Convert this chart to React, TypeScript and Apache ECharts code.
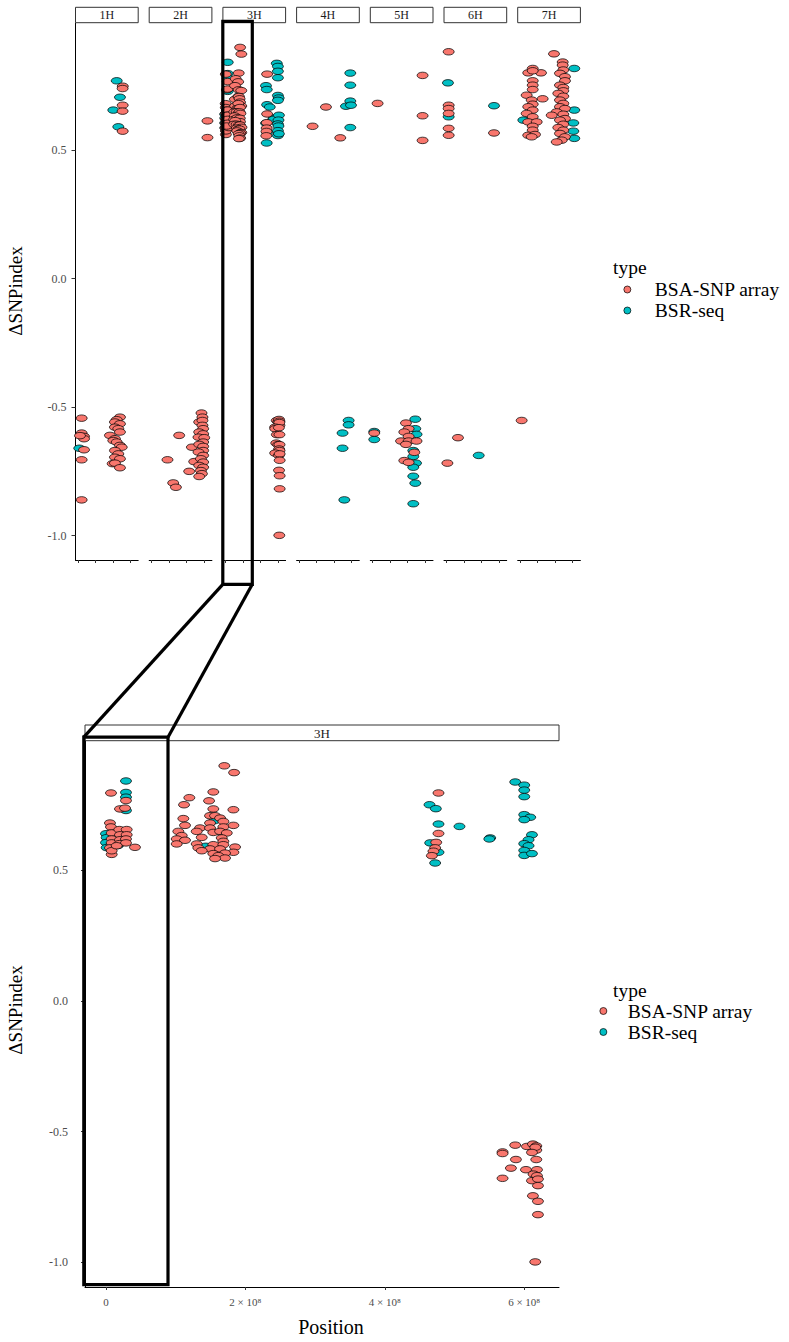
import React, { useEffect, useRef } from 'react';
import * as echarts from 'echarts';

// ---------- data (positions in Mb, ΔSNPindex) ----------
const chromosomes = ['1H', '2H', '3H', '4H', '5H', '6H', '7H'];
const typeNames = ['BSA-SNP array', 'BSR-seq'];
const xTickValues = [0, 200, 400, 600];
const yTickValues = [-1, -0.5, 0, 0.5];

const chr1H_array: number[][] = [
  [512, 0.749], [510, 0.740], [511, 0.675], [510, 0.652], [511, 0.574],
  [44, -0.543], [44, -0.601], [71, -0.614], [71, -0.623], [25, -0.611], [71, -0.666], [44, -0.705], [44, -0.861],
  [480, -0.539], [443, -0.549], [423, -0.558], [480, -0.565], [423, -0.578], [461, -0.584], [480, -0.597],
  [366, -0.610], [423, -0.623], [404, -0.630], [443, -0.636], [480, -0.649], [500, -0.656], [423, -0.669],
  [461, -0.682], [423, -0.695], [480, -0.701], [397, -0.720], [423, -0.718], [480, -0.736],
];
const chr1H_bsr: number[][] = [
  [443, 0.770], [480, 0.706], [404, 0.656], [461, 0.591], [17, -0.660],
];

const chr2H_array: number[][] = [
  [637, 0.614], [637, 0.549],
  [315, -0.610], [182, -0.705], [247, -0.795], [278, -0.812], [460, -0.656], [429, -0.750], [486, -0.712],
  [569, -0.523], [580, -0.539], [543, -0.558], [580, -0.552], [580, -0.571], [588, -0.584], [543, -0.597],
  [588, -0.604], [535, -0.617], [600, -0.619], [588, -0.636], [543, -0.645], [588, -0.653], [588, -0.669],
  [535, -0.675], [588, -0.688], [562, -0.701], [588, -0.714], [543, -0.727], [588, -0.734], [562, -0.747],
  [574, -0.759], [543, -0.770],
];
const chr2H_bsr: number[][] = [];

const chr3H_array: number[][] = [
  [7.2, 0.796], [28.7, 0.767], [20.1, 0.735], [27.3, 0.738], [5.7, 0.681], [7.2, 0.666], [8.2, 0.643],
  [19.1, 0.656], [29.7, 0.656], [8.2, 0.620], [20.1, 0.636], [29.7, 0.636], [8.2, 0.605], [20.1, 0.617],
  [28.7, 0.620], [5.7, 0.586], [19.1, 0.602], [28.7, 0.605], [8.2, 0.561], [8.2, 0.575], [41.6, 0.588], [15.4, 0.594],
  [169.8, 0.900], [183.8, 0.874], [154.0, 0.800], [119.6, 0.778], [147.9, 0.766], [112.0, 0.751], [154.0, 0.735],
  [182.8, 0.732], [111.0, 0.698], [149.3, 0.709], [156.5, 0.709], [163.7, 0.700], [168.4, 0.687], [182.8, 0.672],
  [113.4, 0.672], [149.3, 0.681], [135.0, 0.662], [149.3, 0.662], [168.4, 0.666], [103.8, 0.649], [130.2, 0.649],
  [154.0, 0.645], [163.7, 0.649], [173.3, 0.643], [108.7, 0.633], [101.5, 0.620], [137.4, 0.626], [166.1, 0.624],
  [168.4, 0.611], [113.4, 0.615], [101.5, 0.601], [130.2, 0.601], [154.0, 0.598], [168.4, 0.598], [185.2, 0.589],
  [132.5, 0.586], [149.3, 0.582], [163.7, 0.582], [137.4, 0.575], [182.8, 0.569], [170.8, 0.566], [154.0, 0.564],
  [161.2, 0.556], [170.8, 0.547], [156.5, 0.545],
  [477.1, 0.796], [477.1, 0.641], [473.8, 0.607], [472.3, 0.586], [469.9, 0.573], [467.6, 0.556],
  [587.2, -0.552], [604.0, -0.557], [612.6, -0.548], [617.4, -0.555], [617.4, -0.571], [616.0, -0.560],
  [569.0, -0.578], [569.0, -0.584], [611.2, -0.580], [588.2, -0.607], [617.4, -0.607], [581.0, -0.640],
  [602.6, -0.646], [618.4, -0.646], [613.5, -0.663], [618.4, -0.669], [569.0, -0.679], [611.2, -0.688],
  [619.8, -0.682], [619.8, -0.707], [612.6, -0.746], [619.8, -0.767], [619.8, -0.818], [615.9, -0.999],
];
const chr3H_bsr: number[][] = [
  [28.7, 0.842], [28.7, 0.798], [28.7, 0.780], [28.7, 0.729], [0, 0.640], [1, 0.625], [0, 0.606], [1, 0.587], [17.2, 0.595],
  [155.5, 0.690], [143.1, 0.592],
  [464.2, 0.751], [473.3, 0.736], [477.1, 0.677], [507.2, 0.668], [465.2, 0.605], [477.1, 0.569], [472.3, 0.528],
  [551.3, 0.624], [550.0, 0.620],
  [587.2, 0.838], [600.1, 0.826], [600.1, 0.807], [600.1, 0.782], [600.1, 0.713], [608.7, 0.703], [600.1, 0.694],
  [611.2, 0.636], [606.3, 0.617], [600.1, 0.602], [606.3, 0.594], [600.1, 0.576], [600.1, 0.557], [611.2, 0.564],
];

const chr4H_array: number[][] = [[308, 0.668], [156, 0.593], [471, 0.548]];
const chr4H_bsr: number[][] = [
  [585, 0.800], [585, 0.753], [585, 0.691], [536, 0.671], [593, 0.675], [585, 0.588],
  [497, -0.601], [566, -0.552], [566, -0.569], [497, -0.660], [517, -0.861],
];

const chr5H_array: number[][] = [
  [57, 0.682], [569, 0.791], [569, 0.634], [569, 0.538],
  [19, -0.601], [380, -0.562], [410, -0.584], [361, -0.597], [410, -0.614], [324, -0.632], [410, -0.632],
  [500, -0.632], [380, -0.645], [475, -0.676], [361, -0.708], [410, -0.715],
];
const chr5H_bsr: number[][] = [
  [19, -0.595], [19, -0.626], [486, -0.547], [486, -0.584], [500, -0.606], [463, -0.669], [463, -0.692],
  [494, -0.718], [463, -0.734], [463, -0.769], [486, -0.796], [463, -0.876],
];

const chr6H_array: number[][] = [
  [27, 0.883], [27, 0.675], [27, 0.662], [27, 0.643], [27, 0.585], [27, 0.558], [543, 0.567],
  [12.5, -0.718], [133, -0.619],
];
const chr6H_bsr: number[][] = [[19, 0.762], [27, 0.630], [543, 0.673], [369, -0.688]];

const chr7H_array: number[][] = [
  [145, 0.818], [94, 0.801], [239, 0.801], [145, 0.809], [145, 0.770], [145, 0.753], [145, 0.736], [76, 0.714],
  [258, 0.700], [133, 0.695], [145, 0.679], [94, 0.669], [145, 0.656], [76, 0.643], [145, 0.630], [94, 0.610],
  [190, 0.610], [145, 0.593], [145, 0.578], [94, 0.558], [171, 0.561], [133, 0.552],
  [387, 0.875], [486, 0.843], [486, 0.831], [493, 0.812], [455, 0.799], [512, 0.786], [512, 0.770], [455, 0.753],
  [493, 0.744], [493, 0.731], [436, 0.721], [493, 0.710], [455, 0.695], [493, 0.682], [455, 0.669], [512, 0.662],
  [418, 0.649], [493, 0.640], [361, 0.636], [512, 0.623], [455, 0.617], [493, 0.601], [436, 0.588], [493, 0.578],
  [455, 0.565], [512, 0.552], [475, 0.539], [418, 0.532],
  [19, -0.552],
];
const chr7H_bsr: number[][] = [[38, 0.617], [618, 0.818], [618, 0.656], [607, 0.606], [607, 0.574], [618, 0.546]];

const arrayByChr = [chr1H_array, chr2H_array, chr3H_array, chr4H_array, chr5H_array, chr6H_array, chr7H_array];
const bsrByChr = [chr1H_bsr, chr2H_bsr, chr3H_bsr, chr4H_bsr, chr5H_bsr, chr6H_bsr, chr7H_bsr];

// ---------- styling ----------
const FONT = 'Liberation Serif';
const RED = '#F8766D';
const TEAL = '#00BFC4';
const ELLIPSE = 'path://M-1,0A1,1,0,1,0,1,0A1,1,0,1,0,-1,0Z';
const SYM: [number, number] = [11, 6.5];

const FACET_LEFT0 = 75.5;
const FACET_STEP = 73.7;
const FACET_W = 62.7;
const TOP_GRID_TOP = 23;
const TOP_GRID_H = 537;
const BOT_GRID = { left: 85, top: 741, width: 474, height: 546 };
const Y_MIN = -1.095;
const Y_MAX = 0.995;

function buildOption() {
  const grid: any[] = [];
  const xAxis: any[] = [];
  const yAxis: any[] = [];
  const series: any[] = [];
  const graphic: any[] = [];

  const pointSeries = (name: string, color: string, data: number[][], idx: number) => ({
    type: 'scatter',
    name,
    xAxisIndex: idx,
    yAxisIndex: idx,
    data,
    symbol: ELLIPSE,
    symbolSize: SYM,
    itemStyle: { color, borderColor: '#000', borderWidth: 0.7, opacity: 1 },
    emphasis: { disabled: true },
    silent: true,
  });

  chromosomes.forEach((chr, i) => {
    const left = FACET_LEFT0 + i * FACET_STEP;
    grid.push({ left, top: TOP_GRID_TOP, width: FACET_W, height: TOP_GRID_H, containLabel: false });
    xAxis.push({
      gridIndex: i, type: 'value', min: -26, max: -26 + FACET_W * 11.38,
      axisLine: { show: true, onZero: false, lineStyle: { color: '#000', width: 1 } },
      axisTick: { show: true, length: 3, customValues: xTickValues, lineStyle: { color: '#333' } },
      axisLabel: { show: false },
      splitLine: { show: false },
    });
    yAxis.push({
      gridIndex: i, type: 'value', min: Y_MIN, max: Y_MAX, show: i === 0,
      axisLine: { show: true, onZero: false, lineStyle: { color: '#000', width: 1 } },
      axisTick: { show: true, length: 4, customValues: yTickValues, lineStyle: { color: '#333' } },
      axisLabel: {
        show: true, customValues: yTickValues, formatter: (v: number) => v.toFixed(1),
        fontFamily: FONT, fontSize: 12, color: '#4d4d4d', margin: 9,
      },
      splitLine: { show: false },
    });
    series.push(pointSeries(typeNames[1], TEAL, bsrByChr[i], i));
    series.push(pointSeries(typeNames[0], RED, arrayByChr[i], i));

    // strip
    graphic.push({
      type: 'rect', shape: { x: left, y: 7.3, width: FACET_W, height: 15.4 },
      style: { fill: '#fff', stroke: '#333', lineWidth: 1 }, z: 10,
    });
    graphic.push({
      type: 'text', x: left + FACET_W / 2, y: 15,
      style: { text: chr, fill: '#1a1a1a', fontFamily: FONT, fontSize: 12, align: 'center', verticalAlign: 'middle', textAlign: 'center', textVerticalAlign: 'middle' },
      z: 11,
    });
  });

  // bottom (3H zoom)
  const b = chromosomes.length;
  grid.push({ ...BOT_GRID, containLabel: false });
  xAxis.push({
    gridIndex: b, type: 'value', min: -30.1, max: 650,
    axisLine: { show: true, onZero: false, lineStyle: { color: '#000', width: 1 } },
    axisTick: { show: true, length: 3, customValues: xTickValues, lineStyle: { color: '#333' } },
    axisLabel: {
      show: true, customValues: xTickValues,
      formatter: (v: number) => (v === 0 ? '0' : `${v / 100} × 10⁸`),
      fontFamily: FONT, fontSize: 11, color: '#4d4d4d', margin: 9,
    },
    splitLine: { show: false },
  });
  yAxis.push({
    gridIndex: b, type: 'value', min: Y_MIN, max: Y_MAX,
    axisLine: { show: true, onZero: false, lineStyle: { color: '#000', width: 1 } },
    axisTick: { show: true, length: 4, customValues: yTickValues, lineStyle: { color: '#333' } },
    axisLabel: {
      show: true, customValues: yTickValues, formatter: (v: number) => v.toFixed(1),
      fontFamily: FONT, fontSize: 12, color: '#4d4d4d', margin: 17,
    },
    splitLine: { show: false },
  });
  series.push(pointSeries(typeNames[1], TEAL, chr3H_bsr, b));
  series.push(pointSeries(typeNames[0], RED, chr3H_array, b));

  graphic.push({
    type: 'rect', shape: { x: BOT_GRID.left, y: 725, width: BOT_GRID.width, height: 15.7 },
    style: { fill: '#fff', stroke: '#333', lineWidth: 1 }, z: 10,
  });
  graphic.push({
    type: 'text', x: BOT_GRID.left + BOT_GRID.width / 2, y: 733,
    style: { text: '3H', fill: '#1a1a1a', fontFamily: FONT, fontSize: 13, align: 'center', verticalAlign: 'middle', textAlign: 'center', textVerticalAlign: 'middle' },
    z: 11,
  });

  // axis titles
  const titleStyle = (text: string, size: number) => ({
    text, fill: '#000', fontFamily: FONT, fontSize: size,
    align: 'center', verticalAlign: 'middle', textAlign: 'center', textVerticalAlign: 'middle',
  });
  graphic.push({ type: 'text', x: 15, y: 291, rotation: Math.PI / 2, style: titleStyle('ΔSNPindex', 19) });
  graphic.push({ type: 'text', x: 15, y: 1010, rotation: Math.PI / 2, style: titleStyle('ΔSNPindex', 19) });
  graphic.push({ type: 'text', x: 331, y: 1327, style: titleStyle('Position', 20) });

  // legend titles
  const legTitle = (y: number) => ({
    type: 'text', x: 613, y,
    style: { text: 'type', fill: '#000', fontFamily: FONT, fontSize: 19.5, align: 'left', verticalAlign: 'middle', textAlign: 'left', textVerticalAlign: 'middle' },
  });
  graphic.push(legTitle(267));
  graphic.push(legTitle(990));

  // highlight boxes and connectors
  const thick = { fill: 'none', stroke: '#000', lineWidth: 3.2 };
  graphic.push({ type: 'rect', shape: { x: 222.8, y: 21.3, width: 29.5, height: 563 }, style: thick, z: 20 });
  graphic.push({ type: 'rect', shape: { x: 83.8, y: 737.2, width: 84.2, height: 547.5 }, style: thick, z: 20 });
  graphic.push({ type: 'line', shape: { x1: 222.8, y1: 584.3, x2: 83.8, y2: 737.2 }, style: { stroke: '#000', lineWidth: 3.2 }, z: 20 });
  graphic.push({ type: 'line', shape: { x1: 252.3, y1: 584.3, x2: 168, y2: 737.2 }, style: { stroke: '#000', lineWidth: 3.2 }, z: 20 });

  const legendCommon = {
    data: typeNames,
    orient: 'vertical',
    padding: 0,
    itemWidth: 11,
    itemHeight: 7,
    itemGap: 0,
    icon: ELLIPSE,
    selectedMode: false,
    itemStyle: { borderColor: '#000', borderWidth: 0.7 },
  };

  return {
    animation: false,
    backgroundColor: '#fff',
    color: [RED, TEAL],
    textStyle: { fontFamily: FONT },
    grid,
    xAxis,
    yAxis,
    series,
    legend: [
      { ...legendCommon, left: 623.5, top: 279, textStyle: { fontFamily: FONT, fontSize: 19.5, color: '#000', lineHeight: 21, padding: [0, 0, 0, 17] } },
      { ...legendCommon, left: 599.5, top: 1000.5, textStyle: { fontFamily: FONT, fontSize: 19.5, color: '#000', lineHeight: 21, padding: [0, 0, 0, 14] } },
    ],
    graphic,
  };
}

export default function App() {
  const ref = useRef<HTMLDivElement>(null);
  useEffect(() => {
    if (!ref.current) return;
    const chart = echarts.init(ref.current, null, { renderer: 'svg' });
    chart.setOption(buildOption() as any);
    return () => chart.dispose();
  }, []);
  return (
    <div
      ref={ref}
      style={{ position: 'absolute', left: 0, top: 0, width: 789, height: 1342, background: '#fff' }}
    />
  );
}
